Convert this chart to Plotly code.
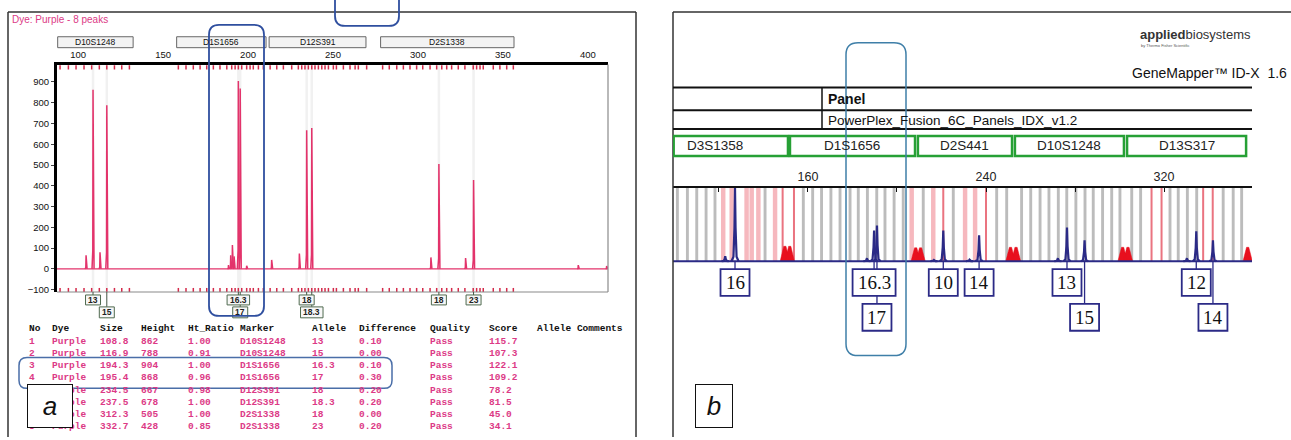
import plotly.graph_objects as go

W, H = 1291, 440
def X(p): return p / W
def Y(p): return 1 - p / H

SANS = "Liberation Sans, Arial"
MONO = "Liberation Mono, Courier New"
SERIF = "Liberation Serif, Times New Roman"

# ---------------- Panel a data ----------------
a_no = ['1', '2', '3', '4', '5', '6', '7', '8']
a_dye = ['Purple', 'Purple', 'Purple', 'Purple', 'Purple', 'Purple', 'Purple', 'Purple']
a_size = [108.8, 116.9, 194.3, 195.4, 234.5, 237.5, 312.3, 332.7]
a_height = [862, 788, 904, 868, 667, 678, 505, 428]
a_ratio = ['1.00', '0.91', '1.00', '0.96', '0.98', '1.00', '1.00', '0.85']
a_marker = ['D10S1248', 'D10S1248', 'D1S1656', 'D1S1656', 'D12S391', 'D12S391', 'D2S1338', 'D2S1338']
a_allele = ['13', '15', '16.3', '17', '18', '18.3', '18', '23']
a_diff = ['0.10', '0.00', '0.10', '0.30', '0.20', '0.20', '0.00', '0.20']
a_quality = ['Pass', 'Pass', 'Pass', 'Pass', 'Pass', 'Pass', 'Pass', 'Pass']
a_score = ['115.7', '107.3', '122.1', '109.2', '78.2', '81.5', '45.0', '34.1']
a_label_row = [1, 2, 1, 2, 1, 2, 1, 1]

a_minor_size = [104.7, 112.9, 188.5, 189.8, 190.8, 191.8, 199.2, 213.9, 230.2, 307.6, 328.0, 394.3, 411.0]
a_minor_height = [65, 80, 18, 65, 115, 60, 15, 43, 74, 55, 52, 18, 14]

a_loci = ['D10S1248', 'D1S1656', 'D12S391', 'D2S1338']
a_loci_range = [(88.0, 132.4), (158.0, 210.6), (212.4, 269.4), (278.0, 356.5)]
a_ticks = [100, 150, 200, 250, 300, 350, 400]
a_yticks = [-100, 0, 100, 200, 300, 400, 500, 600, 700, 800, 900]
a_bins = [89.4, 94.3, 98.8, 103.5, 108.0, 112.5, 116.9, 121.4, 125.7, 130.2,
          159.0, 163.5, 167.8, 171.8, 175.7, 179.6, 183.5, 187.5, 190.4, 192.4, 194.3, 196.3,
          199.2, 201.2, 203.1, 206.1, 209.0,
          213.0, 216.9, 220.8, 225.7, 229.6, 231.6, 233.5, 235.5, 237.5, 239.4, 241.4, 243.4,
          245.3, 247.3, 250.2, 252.0, 256.1, 260.0, 263.0, 264.9, 269.8,
          279.2, 283.1, 287.5, 291.4, 295.3, 299.2, 302.8, 307.1, 311.0, 314.0, 316.9, 319.8,
          323.7, 327.6, 332.5, 334.5, 336.5, 338.4, 344.3, 348.2, 352.2, 356.1]

A_XR = [87.6, 411.8]
A_YR = [-111.4, 983.7]

# ---------------- Panel b data ----------------
b_loci = ['D3S1358', 'D1S1656', 'D2S441', 'D10S1248', 'D13S317']
b_loci_range = [(85.0, 151.0), (151.9, 208.1), (209.4, 251.7), (253.0, 302.0), (303.4, 356.9)]
b_ticks = [120, 160, 200, 240, 280, 320]
b_ticktext = ['', '160', '', '240', '', '320']
b_allele = ['16', '16.3', '17', '10', '14', '13', '15', '12', '14']
b_size = [127.2, 189.7, 191.0, 220.8, 236.9, 276.4, 284.3, 334.5, 342.0]
b_height = [740, 310, 360, 310, 260, 340, 210, 300, 210]
b_label_row = [1, 1, 2, 1, 1, 1, 2, 1, 2]
b_minor_size = [122.8, 186.5, 216.6, 232.6, 272.3, 330.3]
b_minor_height = [50, 30, 12, 15, 30, 30]
b_flag_size = [149.6, 151.8, 208.4, 210.6, 251.0, 253.5, 301.4, 303.8, 357.6]
b_flag_height = [150, 150, 135, 135, 140, 140, 140, 140, 140]
b_bins_gray = [101.3, 105.8, 110.0, 114.2, 118.2, 140.7, 157.9, 162.1, 166.1, 170.3, 174.4,
               178.9, 182.6, 186.7, 190.9, 194.6, 198.7, 202.8, 211.8, 225.3, 244.8, 249.3,
               256.0, 260.1, 264.3, 268.3, 272.5, 276.3, 280.4, 284.5, 288.2, 292.4, 296.5,
               300.2, 305.5, 309.5, 322.7, 326.4, 330.5, 334.7, 346.6, 351.1, 354.9]
b_bins_pink = [121.9, 125.7, 132.4, 134.7, 137.7, 145.2, 206.6, 216.3, 230.6, 235.1]
b_bins_red = [148.6, 153.7, 220.8, 240.0, 314.4, 318.9, 337.6, 341.9]

B_XR = [99.33, 359.55]
B_YR = [-20, 740]

PINK = '#e3336b'
TABLE_PINK = '#dc3a86'
NAVY = '#2b2a86'

fig = go.Figure()

# ---- panel a traces ----
fx, fy = [], []
for s in a_size:
    fx += [s, s, None]
    fy += [A_YR[0], A_YR[1], None]
fig.add_trace(go.Scatter(x=fx, y=fy, mode='lines', line=dict(color='#f1f1f1', width=2.5),
                         xaxis='x', yaxis='y', hoverinfo='skip', showlegend=False))
fig.add_trace(go.Scatter(x=A_XR, y=[0, 0], mode='lines', line=dict(color=PINK, width=1.3),
                         xaxis='x', yaxis='y', hoverinfo='skip', showlegend=False))
px_, py_ = [], []
for s, h in zip(a_minor_size + a_size, a_minor_height + a_height):
    px_ += [s - 0.6, s - 0.15, s, s + 0.15, s + 0.6, None]
    py_ += [0, 0.1 * h, h, 0.1 * h, 0, None]
fig.add_trace(go.Scatter(x=px_, y=py_, mode='lines', line=dict(color=PINK, width=1.5),
                         xaxis='x', yaxis='y', hoverinfo='skip', showlegend=False))
fig.add_trace(go.Scatter(x=a_bins + a_bins, y=[970] * len(a_bins) + [-102] * len(a_bins),
                         mode='markers', marker=dict(symbol='line-ns', size=3,
                                                     line=dict(width=1.5, color='#d42a4a')),
                         xaxis='x', yaxis='y', hoverinfo='skip', showlegend=False))

# ---- panel b traces ----
for bins, col, wd in [(b_bins_gray, '#bcbcbc', 1.3), (b_bins_pink, '#f6b8be', 2.0), (b_bins_red, '#ea7480', 0.9)]:
    fig.add_trace(go.Bar(x=bins, y=[B_YR[1]] * len(bins), base=0, width=wd,
                         marker=dict(color=col, line=dict(width=0)),
                         xaxis='x2', yaxis='y2', hoverinfo='skip', showlegend=False))
tx, ty = [], []
for s, h in zip(b_flag_size, b_flag_height):
    tx += [s - 2.1, s - 0.5, s + 0.5, s + 2.1, s - 2.1, None]
    ty += [0, h, h, 0, 0, None]
fig.add_trace(go.Scatter(x=tx, y=ty, mode='lines', fill='toself', fillcolor='#e8101e',
                         line=dict(color='#e8101e', width=0.5),
                         xaxis='x2', yaxis='y2', hoverinfo='skip', showlegend=False))
fig.add_trace(go.Scatter(x=B_XR, y=[0, 0], mode='lines', line=dict(color=NAVY, width=2),
                         xaxis='x2', yaxis='y2', hoverinfo='skip', showlegend=False))
bx, by = [], []
for s, h in zip(b_minor_size + b_size, b_minor_height + b_height):
    bx += [s - 1.6, s - 0.7, s - 0.25, s, s + 0.25, s + 0.7, s + 1.6, None]
    by += [0, 0.06 * h, 0.45 * h, h, 0.45 * h, 0.06 * h, 0, None]
fig.add_trace(go.Scatter(x=bx, y=by, mode='lines', line=dict(color=NAVY, width=2.2),
                         xaxis='x2', yaxis='y2', hoverinfo='skip', showlegend=False))

shapes = []
ann = []

def pline(x0, y0, x1, y1, color='#222', width=1.5):
    shapes.append(dict(type='line', xref='paper', yref='paper', x0=X(x0), y0=Y(y0),
                       x1=X(x1), y1=Y(y1), line=dict(color=color, width=width)))

def rrect(x0, y0, x1, y1, r, color, width):
    p = (f"M {X(x0+r)},{Y(y0)} L {X(x1-r)},{Y(y0)} Q {X(x1)},{Y(y0)} {X(x1)},{Y(y0+r)} "
         f"L {X(x1)},{Y(y1-r)} Q {X(x1)},{Y(y1)} {X(x1-r)},{Y(y1)} "
         f"L {X(x0+r)},{Y(y1)} Q {X(x0)},{Y(y1)} {X(x0)},{Y(y1-r)} "
         f"L {X(x0)},{Y(y0+r)} Q {X(x0)},{Y(y0)} {X(x0+r)},{Y(y0)} Z")
    shapes.append(dict(type='path', xref='paper', yref='paper', path=p,
                       line=dict(color=color, width=width)))

def text(x, y, t, size, color='#222', family=SANS, xanchor='center', yanchor='middle', **kw):
    ann.append(dict(x=X(x), y=Y(y), xref='paper', yref='paper', text=t, showarrow=False,
                    xanchor=xanchor, yanchor=yanchor, font=dict(size=size, color=color, family=family), **kw))

def dtext(xref, x, y, t, size, color='#222', family=SANS):
    ann.append(dict(x=x, y=Y(y), xref=xref, yref='paper', text=t, showarrow=False,
                    xanchor='center', yanchor='middle', font=dict(size=size, color=color, family=family)))

# ---- panel a frame ----
pline(8, 12, 636, 12, '#333', 1.5)
pline(8, 12, 8, 440, '#333', 1.5)
pline(636, 12, 636, 440, '#333', 1.5)
pline(608, 65, 608, 294, '#8a8a8a', 1.2)
pline(57, 294, 608, 294, '#8a8a8a', 1.2)
text(10, 20, 'Dye: Purple - 8 peaks', 10, color=TABLE_PINK, xanchor='left')

for name, (r0, r1) in zip(a_loci, a_loci_range):
    shapes.append(dict(type='rect', xref='x', yref='paper', x0=r0, x1=r1, y0=Y(48), y1=Y(37),
                       fillcolor='#f3f3f3', line=dict(color='#666', width=1)))
    dtext('x', (r0 + r1) / 2, 42.5, name, 8.5, color='#111')

# allele labels panel a
ROWA = {1: (297, 307), 2: (309, 320)}
for s, lab, row in zip(a_size, a_allele, a_label_row):
    shapes.append(dict(type='line', xref='x', yref='paper', x0=s, x1=s, y0=Y(294), y1=Y(ROWA[row][0]),
                       line=dict(color='#445544', width=1)))
for s, lab, row in zip(a_size, a_allele, a_label_row):
    w = 5 + 5 * sum(c.isdigit() for c in lab) + 2.5 * lab.count('.')
    y0, y1 = ROWA[row]
    shapes.append(dict(type='rect', xref='x', xsizemode='pixel', xanchor=s, x0=-w / 2, x1=w / 2,
                       yref='paper', y0=Y(y1), y1=Y(y0), fillcolor='#f7f7f7',
                       line=dict(color='#4f6a4f', width=1)))
    dtext('x', s, (y0 + y1) / 2, '<b>%s</b>' % lab, 8.5, color='#222')

# table
cols = [('No', 27, a_no), ('Dye', 50, a_dye), ('Size', 98, ['%.1f' % v for v in a_size]),
        ('Height', 139, [str(v) for v in a_height]), ('Ht_Ratio', 186, a_ratio),
        ('Marker', 238, a_marker), ('Allele', 310, a_allele), ('Difference', 357, a_diff),
        ('Quality', 428, a_quality), ('Score', 487, a_score), ('Allele Comments', 535, None)]
for head, cx, vals in cols:
    text(cx, 331, '<b>%s</b>' % head, 9.5, color='#111', family=MONO, xanchor='left')
    if vals:
        for i, v in enumerate(vals):
            text(cx, 343.5 + 12.3 * i, '<b>%s</b>' % v, 9.5, color=TABLE_PINK, family=MONO, xanchor='left')

rrect(209, 25, 264, 318, 10, '#2f4f9f', 1.8)
rrect(335, -40, 399, 26, 10, '#2f4f9f', 1.8)
rrect(19, 360, 392, 391, 8, '#4a6ea8', 1.5)

# ---- panel b frame / header ----
pline(673, 12, 1291, 12, '#333', 1.5)
pline(673, 12, 673, 440, '#333', 1.5)
for yy in (88, 111, 130):
    pline(673, yy, 1252, yy, '#111', 2)
pline(822, 88, 822, 130, '#111', 1.5)
text(826, 100, '<b>Panel</b>', 14, color='#111', xanchor='left')
text(826, 121, 'PowerPlex_Fusion_6C_Panels_IDX_v1.2', 13.5, color='#111', xanchor='left')
text(1138, 35, '<b>applied</b>biosystems', 13, color='#333', xanchor='left')
text(1139, 46, 'by Thermo Fisher Scientific', 4, color='#555', xanchor='left')
text(1289, 73, 'GeneMapper™ ID-X  1.6', 14, color='#111', xanchor='right')

for name, (r0, r1) in zip(b_loci, b_loci_range):
    shapes.append(dict(type='rect', xref='x2', yref='paper', x0=max(r0, B_XR[0] + 0.3), x1=r1,
                       y0=Y(157), y1=Y(137), line=dict(color='#26a035', width=2.5)))
    dtext('x2', (r0 + r1) / 2, 147, name, 13.5, color='#222')

ROWB = {1: (271, 298), 2: (306, 333)}
for s, lab, row in zip(b_size, b_allele, b_label_row):
    shapes.append(dict(type='line', xref='x2', yref='paper', x0=s, x1=s, y0=Y(263), y1=Y(ROWB[row][0]),
                       line=dict(color=NAVY, width=1.3)))
for s, lab, row in zip(b_size, b_allele, b_label_row):
    w = 10 + 9.5 * sum(c.isdigit() for c in lab) + 4.5 * lab.count('.')
    y0, y1 = ROWB[row]
    shapes.append(dict(type='rect', xref='x2', xsizemode='pixel', xanchor=s, x0=-w / 2, x1=w / 2,
                       yref='paper', y0=Y(y1), y1=Y(y0), fillcolor='white',
                       line=dict(color=NAVY, width=1.8)))
    dtext('x2', s, (y0 + y1) / 2, lab, 19, color='#111', family=SERIF)

rrect(846, 43, 906, 358, 12, '#3f7fa8', 1.5)

# panel letters
text(50, 409, '<i>a</i>', 26, color='#111', family=SANS, bgcolor='white', bordercolor='#111',
     borderwidth=1, borderpad=0, width=44, height=42)
text(714, 409, '<i>b</i>', 26, color='#111', family=SANS, bgcolor='white', bordercolor='#111',
     borderwidth=1, borderpad=0, width=36, height=42)

fig.update_layout(
    width=W, height=H, autosize=False, margin=dict(l=0, r=0, t=0, b=0),
    paper_bgcolor='white', plot_bgcolor='white', barmode='overlay', showlegend=False,
    xaxis=dict(domain=[X(57), X(608)], range=A_XR, side='top', anchor='y', showline=True,
               linecolor='black', linewidth=3, tickvals=a_ticks, ticks='', showgrid=False,
               zeroline=False, tickfont=dict(size=9.5, color='#111', family=SANS), fixedrange=True),
    yaxis=dict(domain=[Y(294), Y(65)], range=A_YR, anchor='x', showline=True, linecolor='black',
               linewidth=3, tickvals=a_yticks, ticks='outside', ticklen=3, showgrid=False,
               zeroline=False, tickfont=dict(size=9.5, color='#111', family=SANS), fixedrange=True),
    xaxis2=dict(domain=[X(673), X(1252)], range=B_XR, side='top', anchor='y2', showline=True,
                linecolor='#111', linewidth=1.5, tickvals=b_ticks, ticktext=b_ticktext,
                ticks='inside', ticklen=5, tickcolor='#111', showgrid=False, zeroline=False,
                tickfont=dict(size=12.5, color='#222', family=SANS), fixedrange=True),
    yaxis2=dict(domain=[Y(265), Y(189)], range=B_YR, anchor='x2', visible=False, fixedrange=True),
    shapes=shapes, annotations=ann,
)

fig.write_html("out.html", config={'displayModeBar': False},
               post_script="document.body.style.margin='0px';document.body.style.padding='0px';"
                           "document.body.style.overflow='hidden';")
